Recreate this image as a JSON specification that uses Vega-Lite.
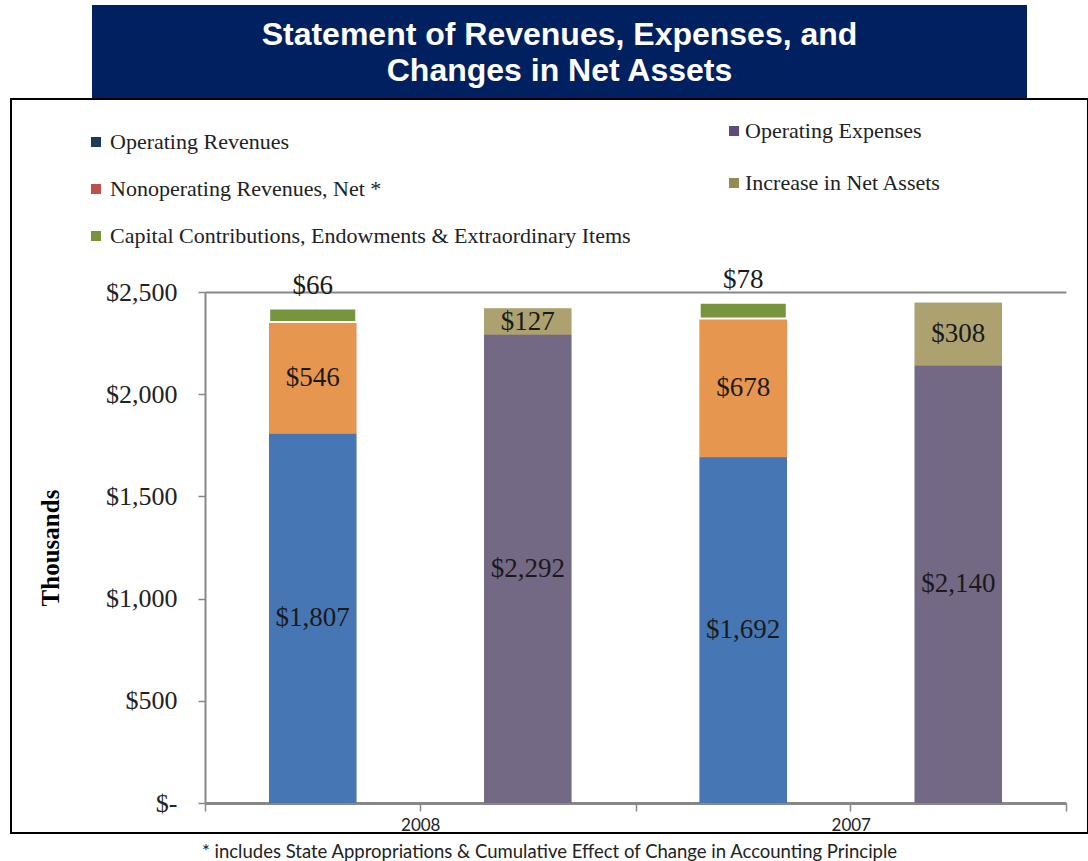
{
  "$schema": "https://vega.github.io/schema/vega-lite/v6.json",
  "background": "white",
  "padding": {"left": 10, "top": 5, "right": 0, "bottom": 0},
  "spacing": 0,
  "center": false,
  "datasets": {
    "rows": [
      {"year": "2008", "side": "Revenues", "segment": "Operating Revenues", "value": 1807, "order": 1},
      {"year": "2008", "side": "Revenues", "segment": "Nonoperating Revenues, Net *", "value": 546, "order": 2},
      {"year": "2008", "side": "Revenues", "segment": "Capital Contributions, Endowments & Extraordinary Items", "value": 66, "order": 3},
      {"year": "2008", "side": "Expenses", "segment": "Operating Expenses", "value": 2292, "order": 1},
      {"year": "2008", "side": "Expenses", "segment": "Increase in Net Assets", "value": 127, "order": 2},
      {"year": "2007", "side": "Revenues", "segment": "Operating Revenues", "value": 1692, "order": 1},
      {"year": "2007", "side": "Revenues", "segment": "Nonoperating Revenues, Net *", "value": 678, "order": 2},
      {"year": "2007", "side": "Revenues", "segment": "Capital Contributions, Endowments & Extraordinary Items", "value": 78, "order": 3},
      {"year": "2007", "side": "Expenses", "segment": "Operating Expenses", "value": 2140, "order": 1},
      {"year": "2007", "side": "Expenses", "segment": "Increase in Net Assets", "value": 308, "order": 2}
    ],
    "heading": [{"text": "Statement of Revenues, Expenses, and\nChanges in Net Assets"}]
  },
  "vconcat": [
    {
      "spacing": 0,
      "hconcat": [
        {
          "width": 81,
          "height": 93,
          "view": {"stroke": null},
          "data": {"name": "heading"},
          "mark": {"type": "text", "fontSize": 1, "color": "white"},
          "encoding": {"text": {"value": ""}}
        },
        {
          "width": 935,
          "height": 93,
          "view": {"fill": "#002060", "stroke": null},
          "data": {"name": "heading"},
          "mark": {"type": "text", "lineBreak": "\n", "font": "Liberation Sans", "fontWeight": "bold", "fontSize": 32, "color": "white", "align": "center", "baseline": "middle", "lineHeight": 36, "dy": -17},
          "encoding": {"text": {"field": "text", "type": "nominal"}}
        }
      ]
    },
    {
      "width": 1077,
      "height": 734,
      "view": {"stroke": "#000", "strokeWidth": 2},
      "data": {"name": "rows"},
      "title": {"text": "* includes State Appropriations & Cumulative Effect of Change in Accounting Principle", "orient": "bottom", "anchor": "middle", "font": "Lato", "fontSize": 18.5, "fontWeight": "normal", "color": "#222", "offset": 10},
      "resolve": {"scale": {"color": "independent", "fill": "independent"}, "axis": {"x": "independent", "y": "independent"}},
      "layer": [
        {
          "transform": [{"filter": "datum.side === 'Revenues'"}],
          "mark": {"type": "bar"},
          "encoding": {
            "x": {"field": "year", "type": "nominal", "scale": {"domain": ["2008", "2007"], "range": [194, 1055], "paddingInner": 0, "paddingOuter": 0},
              "axis": {"orient": "bottom", "offset": -30, "title": null, "tickBand": "extent", "tickSize": 8, "tickColor": "#888", "tickWidth": 1.5, "domainColor": "#888", "domainWidth": 3, "labelFont": "Lato", "labelFontSize": 17, "labelColor": "#222", "labelPadding": 6, "labelAngle": 0}},
            "xOffset": {"field": "side", "type": "nominal", "scale": {"domain": ["Revenues", "Expenses"], "paddingInner": 0.595, "paddingOuter": 0.2985}},
            "y": {"field": "value", "type": "quantitative", "stack": "zero", "scale": {"domain": [0, 2500], "range": [704, 193], "nice": false},
              "axis": {"orient": "left", "offset": -194, "values": [0, 500, 1000, 1500, 2000, 2500], "labelExpr": "datum.value === 0 ? '$-' : '$' + format(datum.value, ',')", "labelFont": "Liberation Serif", "labelFontSize": 26, "labelColor": "#222", "labelPadding": 21, "tickSize": 7, "tickColor": "#888", "tickWidth": 1.5, "domainColor": "#888", "domainWidth": 2, "grid": false, "title": "Thousands", "titleFont": "Liberation Serif", "titleFontSize": 25, "titleFontWeight": "bold", "titleColor": "#000", "titlePadding": 42}},
            "color": {"field": "segment", "type": "nominal",
              "scale": {"domain": ["Operating Revenues", "Nonoperating Revenues, Net *", "Capital Contributions, Endowments & Extraordinary Items"], "range": ["#1F3A5F", "#C0504D", "#77933C"]},
              "legend": {"orient": "none", "legendX": 74, "legendY": 32, "padding": 0, "offset": 0, "title": null, "symbolType": "square", "symbolSize": 100, "symbolStrokeWidth": 0, "labelFont": "Liberation Serif", "labelFontSize": 22, "labelColor": "#222", "labelLimit": 700, "labelOffset": 3, "rowPadding": 25, "direction": "vertical"}},
            "order": {"field": "order", "type": "quantitative"}
          }
        },
        {
          "transform": [{"filter": "datum.side === 'Expenses'"}],
          "mark": {"type": "bar"},
          "encoding": {
            "x": {"field": "year", "type": "nominal", "scale": {"domain": ["2008", "2007"]},
              "axis": {"orient": "bottom", "offset": -30, "title": null, "labels": false, "domain": false, "tickSize": 8, "tickColor": "#888", "tickWidth": 1.5}},
            "xOffset": {"field": "side", "type": "nominal"},
            "y": {"field": "value", "type": "quantitative", "stack": "zero", "axis": null},
            "color": {"field": "segment", "type": "nominal",
              "scale": {"domain": ["Operating Expenses", "Increase in Net Assets"], "range": ["#5F4B7B", "#948A54"]},
              "legend": {"orient": "none", "legendX": 712, "legendY": 21, "padding": 0, "offset": 0, "title": null, "symbolType": "square", "symbolSize": 100, "symbolStrokeWidth": 0, "labelFont": "Liberation Serif", "labelFontSize": 22, "labelColor": "#222", "labelLimit": 700, "labelOffset": 0, "rowPadding": 30, "direction": "vertical"}},
            "order": {"field": "order", "type": "quantitative"}
          }
        },
        {
          "transform": [{"filter": "datum.side === 'Revenues'"}],
          "mark": {"type": "bar", "strokeWidth": 2},
          "encoding": {
            "x": {"field": "year", "type": "nominal", "axis": null},
            "xOffset": {"field": "side", "type": "nominal"},
            "y": {"field": "value", "type": "quantitative", "stack": "zero", "axis": null},
            "fill": {"field": "segment", "type": "nominal",
              "scale": {"domain": ["Operating Revenues", "Nonoperating Revenues, Net *", "Capital Contributions, Endowments & Extraordinary Items"], "range": ["#4677B4", "#E6964F", "#76953C"]},
              "legend": null},
            "order": {"field": "order", "type": "quantitative"},
            "stroke": {"condition": {"test": "datum.order === 3", "value": "white"}, "value": "transparent"}
          }
        },
        {
          "transform": [{"filter": "datum.side === 'Expenses'"}],
          "mark": {"type": "bar"},
          "encoding": {
            "x": {"field": "year", "type": "nominal", "axis": null},
            "xOffset": {"field": "side", "type": "nominal"},
            "y": {"field": "value", "type": "quantitative", "stack": "zero", "axis": null},
            "fill": {"field": "segment", "type": "nominal",
              "scale": {"domain": ["Operating Expenses", "Increase in Net Assets"], "range": ["#746984", "#ADA26F"]},
              "legend": null},
            "order": {"field": "order", "type": "quantitative"}
          }
        },
        {
          "transform": [{"filter": "datum.side === 'Revenues'"}],
          "mark": {"type": "text", "font": "Liberation Serif", "fontSize": 27, "color": "#1a1a1a", "baseline": "middle"},
          "encoding": {
            "x": {"field": "year", "type": "nominal",
              "axis": {"orient": "top", "offset": -193, "title": null, "labels": false, "ticks": false, "domain": true, "domainColor": "#888", "domainWidth": 2}},
            "xOffset": {"field": "side", "type": "nominal"},
            "y": {"field": "value", "type": "quantitative", "stack": "zero", "bandPosition": 0.5, "axis": null},
            "detail": {"field": "segment", "type": "nominal"},
            "order": {"field": "order", "type": "quantitative"},
            "text": {"condition": {"test": "datum.order !== 3", "field": "value", "type": "quantitative", "format": "$,.0f"}, "value": ""}
          }
        },
        {
          "transform": [{"filter": "datum.side === 'Revenues'"}],
          "mark": {"type": "text", "font": "Liberation Serif", "fontSize": 27, "color": "#1a1a1a", "baseline": "middle", "dy": -23},
          "encoding": {
            "x": {"field": "year", "type": "nominal", "axis": null},
            "xOffset": {"field": "side", "type": "nominal"},
            "y": {"field": "value", "type": "quantitative", "stack": "zero", "axis": null},
            "detail": {"field": "segment", "type": "nominal"},
            "order": {"field": "order", "type": "quantitative"},
            "text": {"condition": {"test": "datum.order === 3", "field": "value", "type": "quantitative", "format": "$,.0f"}, "value": ""}
          }
        },
        {
          "transform": [{"filter": "datum.side === 'Expenses'"}],
          "mark": {"type": "text", "font": "Liberation Serif", "fontSize": 27, "color": "#1a1a1a", "baseline": "middle"},
          "encoding": {
            "x": {"field": "year", "type": "nominal", "axis": null},
            "xOffset": {"field": "side", "type": "nominal"},
            "y": {"field": "value", "type": "quantitative", "stack": "zero", "bandPosition": 0.5, "axis": null},
            "detail": {"field": "segment", "type": "nominal"},
            "order": {"field": "order", "type": "quantitative"},
            "text": {"field": "value", "type": "quantitative", "format": "$,.0f"}
          }
        }
      ]
    }
  ],
  "config": {
    "view": {"stroke": null},
    "axis": {"grid": false}
  }
}
